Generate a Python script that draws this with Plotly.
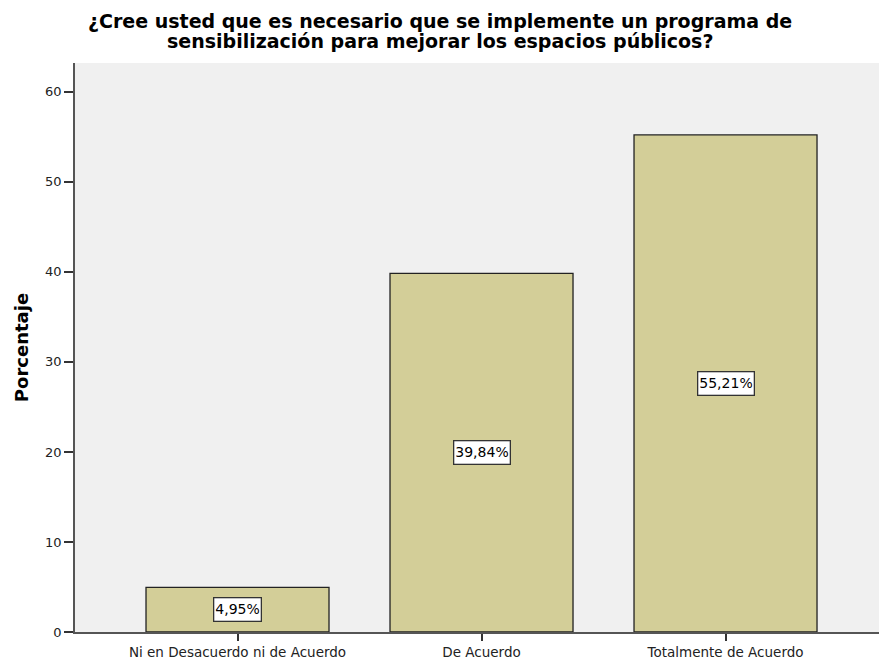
import plotly.graph_objects as go

categories = ["Ni en Desacuerdo ni de Acuerdo", "De Acuerdo", "Totalmente de Acuerdo"]
percentages = [4.95, 39.84, 55.21]
label_texts = ["4,95%", "39,84%", "55,21%"]
y_ticks = [0, 10, 20, 30, 40, 50, 60]
title_lines = [
    "¿Cree usted que es necesario que se implemente un programa de",
    "sensibilización para mejorar los espacios públicos?",
]

FONT = "DejaVu Sans, Verdana, sans-serif"
PLOT_TOP, PLOT_BOTTOM = 63, 632
PLOT_H = PLOT_BOTTOM - PLOT_TOP


def paper_y(px):
    return (PLOT_BOTTOM - px) / PLOT_H


fig = go.Figure()
fig.add_trace(go.Bar(
    x=list(range(len(categories))),
    y=percentages,
    width=0.75,
    marker=dict(color="#D3CE98", line=dict(color="#222222", width=1.3)),
    hoverinfo="skip",
))

# value labels boxed at the middle of each bar
for i, (v, t) in enumerate(zip(percentages, label_texts)):
    fig.add_annotation(
        x=i, y=v / 2, text=t, showarrow=False,
        font=dict(family=FONT, size=14, color="black"),
        bgcolor="white", bordercolor="#333333", borderwidth=1.3, borderpad=1,
        height=20,
    )

# two-line title, each line placed separately for tight spacing
for line, ypx in zip(title_lines, [21, 41]):
    fig.add_annotation(
        xref="paper", yref="paper", x=(440 - 75) / 804, y=paper_y(ypx),
        xanchor="center", yanchor="middle", text=line, showarrow=False,
        font=dict(family=FONT, size=19, color="black", weight="bold"),
    )

fig.update_layout(
    width=879, height=661,
    margin=dict(l=75, r=0, t=PLOT_TOP, b=661 - PLOT_BOTTOM),
    paper_bgcolor="white",
    plot_bgcolor="#F0F0F0",
    showlegend=False,
    font=dict(family=FONT, size=13, color="#222222"),
)

fig.update_xaxes(
    range=[-0.666, 2.629],
    tickvals=list(range(len(categories))), ticktext=categories,
    ticks="outside", ticklen=7, tickcolor="#333333", tickwidth=1.5,
    showline=True, linecolor="#555555", linewidth=1.5, mirror=False,
    showgrid=False, zeroline=False, automargin=False,
    tickfont=dict(family=FONT, size=13.5, color="#222222"),
)
fig.update_yaxes(
    range=[0, 63.2],
    tickvals=y_ticks,
    ticks="outside", ticklen=9, tickcolor="#333333", tickwidth=1.5,
    showline=True, linecolor="#555555", linewidth=1.5, mirror=True,
    showgrid=False, zeroline=False, automargin=False,
    tickfont=dict(family=FONT, size=13, color="#222222"),
    title=dict(text="Porcentaje", font=dict(family=FONT, size=18, color="black", weight="bold"), standoff=12),
)

fig.write_html("out.html")
